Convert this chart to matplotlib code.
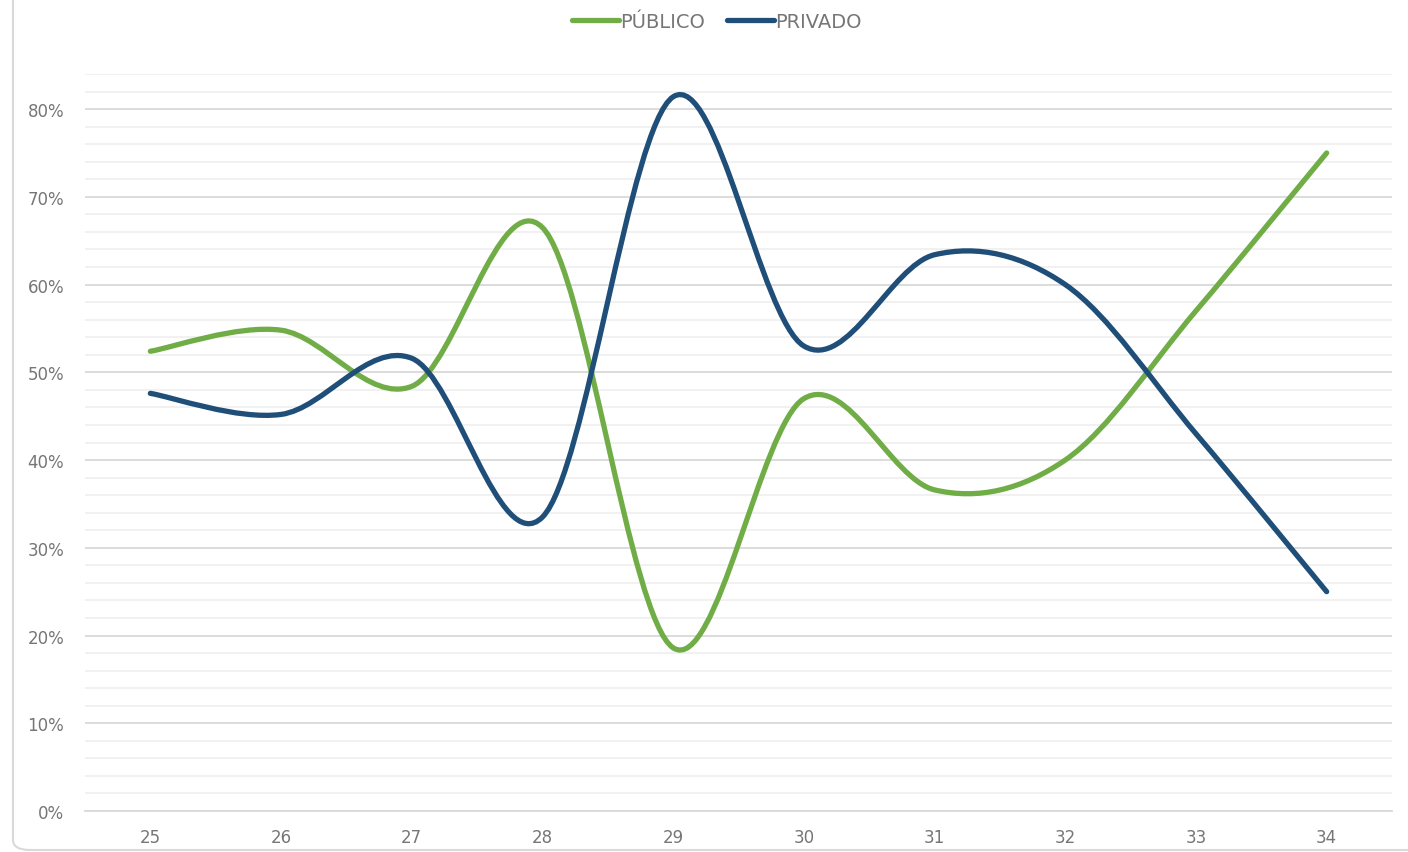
import matplotlib.pyplot as plt
from matplotlib.path import Path
from matplotlib.patches import PathPatch, FancyBboxPatch
from matplotlib.lines import Line2D
from matplotlib.ticker import MultipleLocator, PercentFormatter

categories = ["25", "26", "27", "28", "29", "30", "31", "32", "33", "34"]
publico = [0.524, 0.548, 0.484, 0.665, 0.186, 0.470, 0.366, 0.400, 0.570, 0.750]
privado = [0.476, 0.452, 0.516, 0.335, 0.814, 0.530, 0.634, 0.600, 0.430, 0.250]

GREEN = "#70AD47"
BLUE = "#1F4E79"
TEXT = "#767676"


def smooth_path(ys):
    # Excel-style smoothed line: cubic Bezier segments through the points
    pts = list(enumerate(ys))
    n = len(pts)
    verts = [pts[0]]
    codes = [Path.MOVETO]
    for i in range(n - 1):
        p0 = pts[max(i - 1, 0)]
        p1 = pts[i]
        p2 = pts[i + 1]
        p3 = pts[min(i + 2, n - 1)]
        c1 = (p1[0] + (p2[0] - p0[0]) / 6, p1[1] + (p2[1] - p0[1]) / 6)
        c2 = (p2[0] - (p3[0] - p1[0]) / 6, p2[1] - (p3[1] - p1[1]) / 6)
        verts += [c1, c2, p2]
        codes += [Path.CURVE4] * 3
    return Path(verts, codes)


def main():
    plt.rcParams["font.family"] = ["DejaVu Sans"]

    fig = plt.figure(figsize=(14.08, 8.53), dpi=100)
    fig.patches.append(FancyBboxPatch(
        (13 / 1408, 2 / 853), 1.2, 1.2, boxstyle="round,pad=0,rounding_size=0.012",
        transform=fig.transFigure, facecolor="none", edgecolor="#d9d9d9",
        linewidth=1.5, zorder=0))

    ax = fig.add_axes([85 / 1408, 41 / 853, 1307 / 1408, 737 / 853])
    ax.set_xlim(-0.5, len(categories) - 0.5)
    ax.set_ylim(0, 0.84)

    ax.yaxis.set_major_locator(MultipleLocator(0.1))
    ax.yaxis.set_minor_locator(MultipleLocator(0.02))
    ax.yaxis.set_major_formatter(PercentFormatter(1.0, decimals=0))
    ax.grid(True, which="major", axis="y", color="#d9d9d9", linewidth=1.3)
    ax.grid(True, which="minor", axis="y", color="#f0f0f0", linewidth=1.3)
    ax.set_axisbelow(True)

    ax.set_xticks(range(len(categories)))
    ax.set_xticklabels(categories)
    ax.tick_params(axis="both", which="both", length=0, labelcolor=TEXT,
                   labelsize=12)
    ax.tick_params(axis="y", pad=15)
    ax.tick_params(axis="x", pad=12)
    for side in ["top", "right", "left"]:
        ax.spines[side].set_visible(False)
    ax.spines["bottom"].set_color("#d9d9d9")
    ax.spines["bottom"].set_linewidth(1.3)

    for ys, color in [(publico, GREEN), (privado, BLUE)]:
        ax.add_patch(PathPatch(smooth_path(ys), facecolor="none", edgecolor=color,
                               linewidth=3.8, capstyle="round", joinstyle="round",
                               zorder=3))

    handles = [
        Line2D([], [], color=GREEN, linewidth=3.8, solid_capstyle="round"),
        Line2D([], [], color=BLUE, linewidth=3.8, solid_capstyle="round"),
    ]
    leg = fig.legend(handles, ["PÚBLICO", "PRIVADO"], loc="center",
                     bbox_to_anchor=(717 / 1408, 1 - 22 / 853), ncol=2,
                     frameon=False, fontsize=14, handlelength=2.4,
                     handletextpad=0.1, columnspacing=1.1)
    for t in leg.get_texts():
        t.set_color(TEXT)

    fig.savefig("out.png", dpi=100)


if __name__ == "__main__":
    main()
